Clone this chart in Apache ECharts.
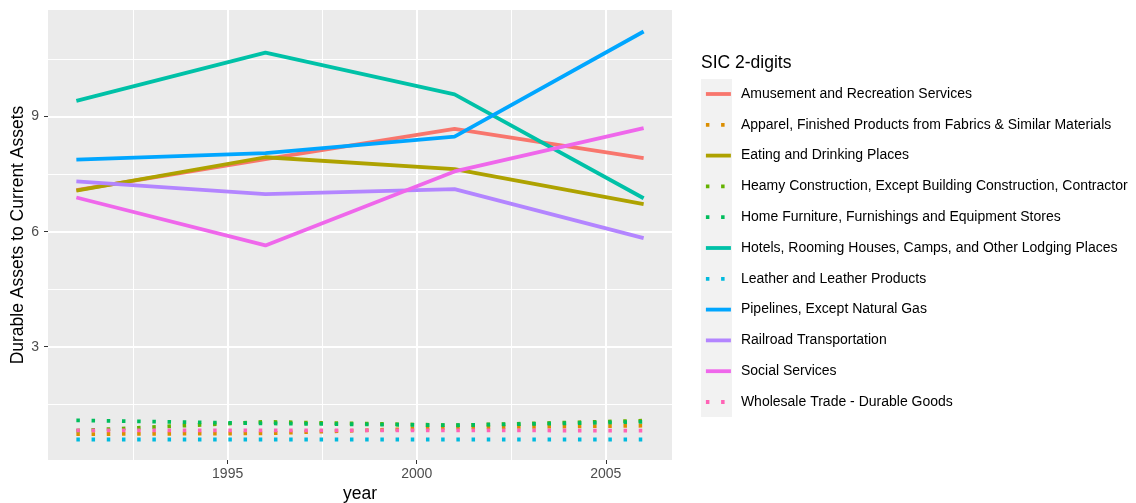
<!DOCTYPE html>
<html>
<head>
<meta charset="utf-8">
<script src="https://cdn.jsdelivr.net/npm/echarts@6/dist/echarts.min.js"></script>
<style>
  html, body { margin: 0; padding: 0; background: #fff; }
  #chart { width: 1136px; height: 503px; }
</style>
</head>
<body>
<div id="chart"></div>
<script>
// years for each observation
var years = [1991, 1996, 2001, 2006];

// legend / series names (ggplot factor order)
var names = [
  'Amusement and Recreation Services',
  'Apparel, Finished Products from Fabrics & Similar Materials',
  'Eating and Drinking Places',
  'Heamy Construction, Except Building Construction, Contractor',
  'Home Furniture, Furnishings and Equipment Stores',
  'Hotels, Rooming Houses, Camps, and Other Lodging Places',
  'Leather and Leather Products',
  'Pipelines, Except Natural Gas',
  'Railroad Transportation',
  'Social Services',
  'Wholesale Trade - Durable Goods'
];

// values, one array per series
var amusement  = [7.08, 7.89, 8.68, 7.92];
var apparel    = [0.72, 0.74, 0.89, 0.94];
var eating     = [7.07, 7.94, 7.63, 6.72];
var heamy      = [0.81, 1.04, 0.95, 1.07];
var homeFurn   = [1.08, 1.00, 0.95, 1.04];
var hotels     = [9.41, 10.67, 9.58, 6.87];
var leather    = [0.58, 0.58, 0.58, 0.58];
var pipelines  = [7.88, 8.05, 8.48, 11.22];
var railroad   = [7.31, 6.98, 7.11, 5.83];
var social     = [6.89, 5.64, 7.57, 8.70];
var wholesale  = [0.82, 0.82, 0.82, 0.81];

var values = [amusement, apparel, eating, heamy, homeFurn, hotels,
              leather, pipelines, railroad, social, wholesale];
var dotted = [false, true, false, true, true, false, true, false, false, false, true];

// ggplot default hue palette for 11 groups
var colors = ['#F8766D', '#DB8E00', '#AEA200', '#64B200', '#00BD5C', '#00C1A7',
              '#00BADE', '#00A6FF', '#B385FF', '#EF67EB', '#FF63B6'];

// tick labels
var xMajor = [1995, 2000, 2005];
var xMinor = [1992.5, 1997.5, 2002.5];
var yMajor = [3, 6, 9];
var yMinor = [1.5, 4.5, 7.5, 10.5];

var FONT = 'Liberation Sans, Arial, Helvetica, sans-serif';
var LW = 3.8;
var chart = echarts.init(document.getElementById('chart'), null, { renderer: 'canvas' });

var series = names.map(function (n, i) {
  return {
    name: n,
    type: 'line',
    xAxisIndex: 0,
    yAxisIndex: 0,
    symbol: 'none',
    showSymbol: false,
    silent: true,
    animation: false,
    color: colors[i],
    lineStyle: {
      color: colors[i],
      width: LW,
      type: dotted[i] ? [3.5, 11.7] : 'solid',
      cap: 'butt'
    },
    data: years.map(function (y, k) { return [y, values[i][k]]; })
  };
});

var option = {
  backgroundColor: '#ffffff',
  animation: false,
  textStyle: { fontFamily: FONT },
  grid: {
    left: 48, right: 464, top: 10, bottom: 43,
    outerBoundsMode: 'none',
    containLabel: false,
    show: true,
    backgroundColor: '#EBEBEB',
    borderWidth: 0
  },
  graphic: [{
    type: 'rect',
    left: 701, top: 79,
    shape: { width: 31, height: 338 },
    style: { fill: '#F2F2F2' },
    z: -1
  }, {
    type: 'text',
    left: 701, top: 54,
    style: { text: 'SIC 2-digits', font: '17.5px ' + FONT, fill: '#000000' }
  }],
  legend: {
    orient: 'vertical',
    left: 704, top: 86,
    padding: 0,
    itemWidth: 25,
    itemHeight: 16,
    itemGap: 14.8,
    itemStyle: { opacity: 0, borderWidth: 0 },
    lineStyle: { width: LW, cap: 'butt' },
    textStyle: { fontSize: 14, color: '#000000', fontFamily: FONT, lineHeight: 16, padding: [0, 0, 0, 5] },
    selectedMode: false,
    data: names
  },
  xAxis: [{
    type: 'value',
    min: 1990.25, max: 2006.75,
    name: 'year',
    nameLocation: 'middle',
    nameGap: 25,
    nameMoveOverlap: false,
    nameTextStyle: { fontSize: 17.5, color: '#000000', fontFamily: FONT, verticalAlign: 'top' },
    axisLine: { show: false },
    axisTick: { show: true, length: 4, customValues: xMajor, lineStyle: { color: '#333333', width: 1 } },
    axisLabel: {
      customValues: xMajor, fontSize: 14, color: '#4D4D4D', margin: 7, fontFamily: FONT,
      formatter: function (v) { return String(v); }
    },
    splitLine: { show: true, lineStyle: { color: '#ffffff', width: 2 } }
  }, {
    type: 'value',
    min: 1990.25, max: 2006.75,
    axisLine: { show: false },
    axisTick: { show: false, customValues: xMinor },
    axisLabel: { show: false, customValues: xMinor },
    splitLine: { show: true, lineStyle: { color: '#ffffff', width: 1 } }
  }],
  yAxis: [{
    type: 'value',
    min: 0.045, max: 11.78,
    name: 'Durable Assets to Current Assets',
    nameLocation: 'middle',
    nameGap: 21,
    nameMoveOverlap: false,
    nameTextStyle: { fontSize: 17.5, color: '#000000', fontFamily: FONT },
    axisLine: { show: false },
    axisTick: { show: true, length: 4, customValues: yMajor, lineStyle: { color: '#333333', width: 1 } },
    axisLabel: { customValues: yMajor, fontSize: 14, color: '#4D4D4D', margin: 9, fontFamily: FONT },
    splitLine: { show: true, lineStyle: { color: '#ffffff', width: 2 } }
  }, {
    type: 'value',
    min: 0.045, max: 11.78,
    position: 'left',
    axisLine: { show: false },
    axisTick: { show: false, customValues: yMinor },
    axisLabel: { show: false, customValues: yMinor },
    splitLine: { show: true, lineStyle: { color: '#ffffff', width: 1 } }
  }],
  series: series
};

chart.setOption(option);
</script>
</body>
</html>
